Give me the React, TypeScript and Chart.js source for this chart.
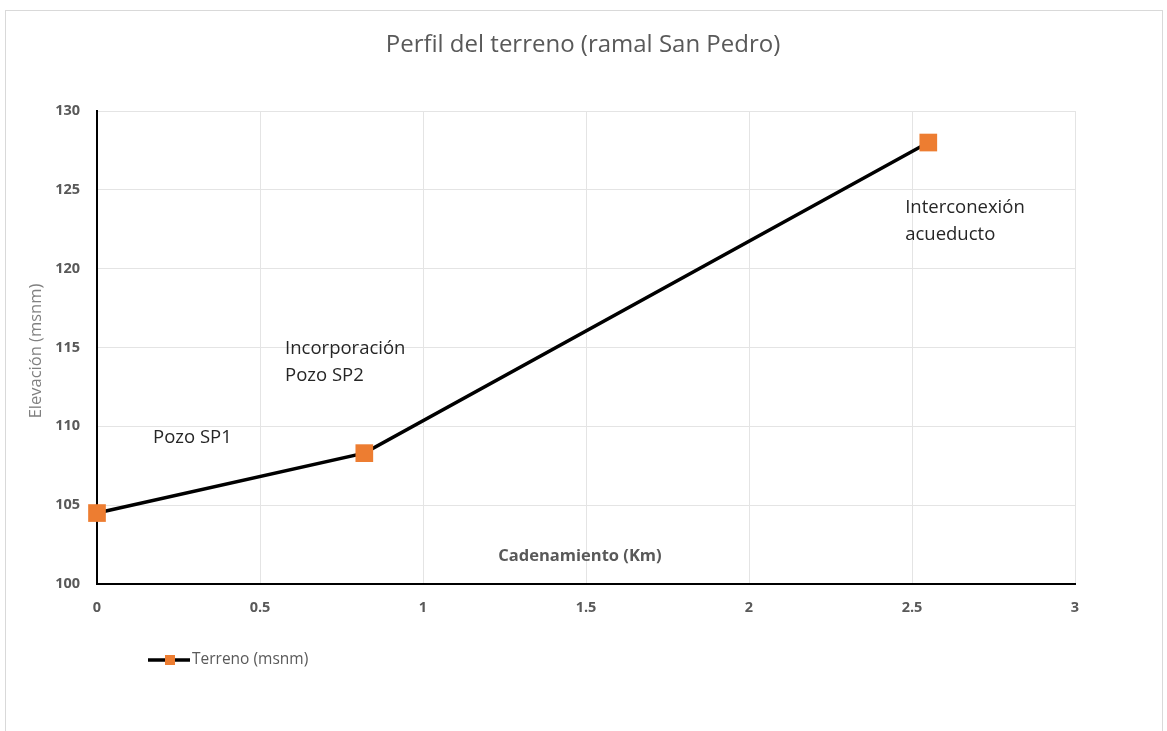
import React, { useEffect, useRef } from "react";
import { Chart, registerables } from "chart.js";

Chart.register(...registerables);

// ---- Data ----
const distanceKm = [0, 0.82, 2.55];
const elevationMsnm = [104.5, 108.3, 128];
const xTickLabels = ["0", "0.5", "1", "1.5", "2", "2.5", "3"];
const yTickLabels = ["100", "105", "110", "115", "120", "125", "130"];
const annotationLines = [["Pozo SP1"], ["Incorporación", "Pozo SP2"], ["Interconexión", "acueducto"]];
const annotationX = [0.172, 0.577, 2.479];
const annotationY = [109.26, 114.9, 123.84];
const seriesLabel = "Terreno (msnm)";
const chartTitle = "Perfil del terreno (ramal San Pedro)";
const xAxisTitle = "Cadenamiento (Km)";
const yAxisTitle = "Elevación (msnm)";

const FONT = "'Open Sans', 'DejaVu Sans', sans-serif";
const ORANGE = "#ED7D31";

const decorPlugin = {
  id: "decor",
  beforeDraw(chart: any) {
    const ctx = chart.ctx;
    ctx.save();
    ctx.fillStyle = "#ffffff";
    ctx.fillRect(0, 0, chart.width, chart.height);
    ctx.strokeStyle = "#d9d9d9";
    ctx.lineWidth = 1;
    ctx.strokeRect(5.5, 10.5, 1157, 740);
    ctx.restore();
  },
  afterDraw(chart: any) {
    const ctx = chart.ctx;
    const area = chart.chartArea;
    const xs = chart.scales.x;
    const ys = chart.scales.y;
    ctx.save();
    // Title
    ctx.fillStyle = "#595959";
    ctx.font = `24px ${FONT}`;
    ctx.textAlign = "center";
    ctx.textBaseline = "middle";
    ctx.fillText(chartTitle, 583, 45);

    // X axis title (inside plot)
    ctx.font = `bold 16.5px ${FONT}`;
    ctx.fillStyle = "#595959";
    ctx.fillText(xAxisTitle, (area.left + area.right) / 2 - 6, 556);

    // Y axis title
    ctx.save();
    ctx.translate(36, 351);
    ctx.rotate(-Math.PI / 2);
    ctx.font = `16.5px ${FONT}`;
    ctx.fillStyle = "#808080";
    ctx.fillText(yAxisTitle, 0, 0);
    ctx.restore();

    // Annotations
    ctx.font = `18.5px ${FONT}`;
    ctx.fillStyle = "#262626";
    ctx.textAlign = "left";
    annotationLines.forEach((lines, i) => {
      const px = xs.getPixelForValue(annotationX[i]);
      const py = ys.getPixelForValue(annotationY[i]);
      lines.forEach((t, j) => ctx.fillText(t, px, py + j * 27));
    });

    // Legend
    const ds = chart.data.datasets[0];
    const ly = 660;
    ctx.strokeStyle = ds.borderColor;
    ctx.lineWidth = 3.5;
    ctx.beginPath();
    ctx.moveTo(148, ly);
    ctx.lineTo(190, ly);
    ctx.stroke();
    ctx.fillStyle = ds.pointBackgroundColor;
    ctx.fillRect(165, ly - 5, 10, 10);
    ctx.font = `15.5px ${FONT}`;
    ctx.fillStyle = "#595959";
    ctx.textAlign = "left";
    ctx.fillText(ds.label, 192, ly);
    ctx.restore();
  },
};

export default function App() {
  const ref = useRef<HTMLCanvasElement | null>(null);
  useEffect(() => {
    if (!ref.current) return;
    const chart = new Chart(ref.current, {
      type: "line",
      data: {
        datasets: [
          {
            label: seriesLabel,
            data: distanceKm.map((x, i) => ({ x, y: elevationMsnm[i] })),
            borderColor: "#000000",
            borderWidth: 3.5,
            pointStyle: "rect",
            pointRadius: 12.5,
            pointHoverRadius: 12.5,
            pointBackgroundColor: ORANGE,
            pointBorderColor: ORANGE,
            pointBorderWidth: 0,
            tension: 0,
            fill: false,
            clip: false,
          },
        ],
      },
      options: {
        animation: false,
        responsive: false,
        devicePixelRatio: 1,
        layout: { padding: { left: 0, top: 111, right: 92, bottom: 107 } },
        plugins: { legend: { display: false }, title: { display: false }, tooltip: { enabled: false } },
        scales: {
          x: {
            type: "linear",
            min: 0,
            max: 3,
            afterFit: (s: any) => { s.height = 40; },
            ticks: {
              stepSize: 0.5,
              padding: 15,
              color: "#595959",
              font: { family: FONT, size: 14.5, weight: "bold" },
              callback: (_v: any, i: number) => xTickLabels[i],
            },
            grid: { color: "#e4e4e4", lineWidth: 1, drawTicks: false },
            border: { color: "#000000", width: 2 },
          },
          y: {
            type: "linear",
            min: 100,
            max: 130,
            afterFit: (s: any) => { s.width = 97; },
            ticks: {
              stepSize: 5,
              padding: 17,
              color: "#595959",
              font: { family: FONT, size: 14.5, weight: "bold" },
              callback: (_v: any, i: number) => yTickLabels[i],
            },
            grid: { color: "#e4e4e4", lineWidth: 1, drawTicks: false },
            border: { color: "#000000", width: 2 },
          },
        },
      },
      plugins: [decorPlugin],
    });
    return () => chart.destroy();
  }, []);
  return (
    <div style={{ position: "fixed", left: 0, top: 0, width: 1167, height: 731, background: "#fff" }}>
      <canvas ref={ref} width={1167} height={731} style={{ width: 1167, height: 731, display: "block" }} />
    </div>
  );
}
